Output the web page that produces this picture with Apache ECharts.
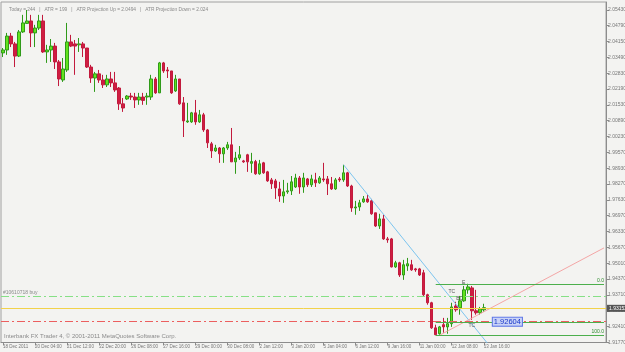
<!DOCTYPE html>
<html><head><meta charset="utf-8">
<script src="https://cdn.jsdelivr.net/npm/echarts@6/dist/echarts.min.js"></script>
<style>html,body{margin:0;padding:0;background:#f3f3f1}#c{width:625px;height:352px}</style>
</head><body><div id="c"></div>
<script>
// ---- data (H4 bars) ----
const opens = [2.0363,2.0375,2.0432,2.0400,2.0350,2.0449,2.0484,2.0494,2.0445,2.0465,
2.0494,2.0367,2.0375,2.0391,2.0326,2.0252,2.0293,2.0408,2.0400,2.0396,
2.0400,2.0383,2.0305,2.0260,2.0277,2.0252,2.0232,2.0256,2.0240,2.0219,
2.0154,2.0174,2.0186,2.0182,2.0170,2.0182,2.0182,2.0182,2.0256,2.0199,
2.0322,2.0293,2.0289,2.0207,2.0256,2.0158,2.0080,2.0080,2.0117,2.0080,
2.0109,2.0047,1.9990,1.9961,1.9973,1.9949,1.9973,1.9986,1.9916,1.9932,
1.9920,1.9945,1.9910,1.9917,1.9867,1.9912,1.9875,1.9842,1.9838,1.9805,
1.9776,1.9793,1.9797,1.9813,1.9850,1.9813,1.9846,1.9822,1.9842,1.9830,
1.9846,1.9846,1.9826,1.9805,1.9846,1.9842,1.9871,1.9817,1.9727,1.9731,
1.9752,1.9764,1.9756,1.9707,1.9653,1.9682,1.9600,1.9600,1.9485,1.9502,
1.9452,1.9489,1.9494,1.9477,1.9477,1.9461,1.9371,1.9338,1.9235,1.9211,
1.9248,1.9239,1.9252,1.9325,1.9317,1.9346,1.9391,1.9399,1.9305,1.9297,
1.9309];
const closes = [2.0375,2.0432,2.0400,2.0350,2.0449,2.0486,2.0494,2.0445,2.0465,2.0494,
2.0367,2.0375,2.0391,2.0326,2.0256,2.0297,2.0408,2.0391,2.0391,2.0400,
2.0383,2.0305,2.0260,2.0277,2.0252,2.0232,2.0256,2.0240,2.0211,2.0154,
2.0137,2.0186,2.0182,2.0170,2.0182,2.0168,2.0186,2.0256,2.0199,2.0322,
2.0289,2.0289,2.0199,2.0256,2.0154,2.0084,2.0084,2.0117,2.0080,2.0109,
2.0047,1.9994,1.9961,1.9973,1.9949,1.9973,1.9986,1.9916,1.9932,1.9945,
1.9916,1.9916,1.9917,1.9867,1.9908,1.9871,1.9838,1.9826,1.9809,1.9776,
1.9793,1.9797,1.9834,1.9850,1.9813,1.9850,1.9822,1.9846,1.9830,1.9850,
1.9842,1.9826,1.9805,1.9842,1.9842,1.9871,1.9817,1.9727,1.9731,1.9748,
1.9764,1.9752,1.9703,1.9653,1.9682,1.9600,1.9596,1.9485,1.9502,1.9452,
1.9494,1.9498,1.9473,1.9473,1.9452,1.9371,1.9338,1.9235,1.9207,1.9239,
1.9239,1.9252,1.9321,1.9309,1.9346,1.9391,1.9403,1.9305,1.9297,1.9313,
1.9318];
const lows = [2.0346,2.0355,2.0387,2.0305,2.0346,2.0445,2.0482,2.0387,2.0387,2.0457,
2.0363,2.0322,2.0326,2.0297,2.0227,2.0244,2.0285,2.0387,2.0273,2.0367,
2.0346,2.0301,2.0240,2.0203,2.0240,2.0219,2.0223,2.0223,2.0203,2.0129,
2.0121,2.0170,2.0170,2.0137,2.0150,2.0150,2.0150,2.0170,2.0195,2.0199,
2.0281,2.0260,2.0195,2.0203,2.0150,2.0018,2.0076,2.0076,2.0068,2.0076,
2.0039,1.9973,1.9932,1.9957,1.9912,1.9912,1.9965,1.9916,1.9867,1.9924,
1.9912,1.9875,1.9871,1.9863,1.9863,1.9867,1.9834,1.9805,1.9764,1.9752,
1.9748,1.9785,1.9780,1.9809,1.9785,1.9789,1.9813,1.9813,1.9813,1.9826,
1.9834,1.9780,1.9801,1.9801,1.9834,1.9834,1.9813,1.9711,1.9699,1.9715,
1.9748,1.9748,1.9699,1.9649,1.9641,1.9596,1.9584,1.9483,1.9481,1.9444,
1.9432,1.9469,1.9469,1.9465,1.9448,1.9363,1.9330,1.9231,1.9205,1.9207,
1.9215,1.9211,1.9239,1.9301,1.9289,1.9342,1.9375,1.9268,1.9289,1.9289,
1.9301];
const highs = [2.0383,2.0445,2.0445,2.0408,2.0457,2.0519,2.0539,2.0519,2.0478,2.0519,
2.0519,2.0396,2.0420,2.0404,2.0334,2.0342,2.0486,2.0437,2.0416,2.0424,
2.0408,2.0383,2.0314,2.0285,2.0293,2.0273,2.0273,2.0285,2.0285,2.0223,
2.0178,2.0190,2.0199,2.0199,2.0199,2.0199,2.0199,2.0273,2.0264,2.0326,
2.0326,2.0305,2.0289,2.0273,2.0256,2.0182,2.0158,2.0121,2.0170,2.0129,
2.0117,2.0051,1.9998,1.9986,1.9977,1.9977,1.9998,2.0055,1.9957,1.9981,
1.9924,1.9949,1.9953,1.9924,1.9924,1.9916,1.9879,1.9850,1.9846,1.9834,
1.9842,1.9830,1.9858,1.9867,1.9858,1.9871,1.9850,1.9863,1.9871,1.9858,
1.9912,1.9858,1.9854,1.9850,1.9854,1.9904,1.9875,1.9822,1.9756,1.9760,
1.9776,1.9780,1.9764,1.9707,1.9703,1.9699,1.9608,1.9604,1.9510,1.9506,
1.9514,1.9522,1.9514,1.9481,1.9481,1.9473,1.9375,1.9342,1.9248,1.9243,
1.9276,1.9276,1.9338,1.9342,1.9366,1.9407,1.9416,1.9407,1.9391,1.9321,
1.9334];
const xTickLabels = ['18 Dec 2011','20 Dec 04:00','21 Dec 12:00','22 Dec 20:00','26 Dec 08:00','27 Dec 16:00',
'29 Dec 00:00','30 Dec 08:00','2 Jan 12:00','3 Jan 20:00','5 Jan 04:00','6 Jan 12:00','9 Jan 16:00',
'11 Jan 00:00','12 Jan 08:00','13 Jan 16:00'];
const yTickLabels = ['1.91770','1.92410','1.93050','1.93710','1.94370','1.95010','1.95670','1.96330','1.96970',
'1.97630','1.98270','1.98930','1.99570','2.00230','2.00890','2.01530','2.02190','2.02830','2.03490',
'2.04150','2.04790','2.05430'];
const totalSlots = 151;           // bars + empty right shift
const orderLevel = 1.9365, bidLevel = 1.93152, stopLevel = 1.9264;
const bidText = '1.93152';
const fibLevels = [{v:1.9416,t:'0.0'},{v:1.9257,t:''},{v:1.9205,t:'100.0'}];
const fibStart = 108;
const blueTrend = [[85,1.9904],[121,1.9170]];
const pinkTrend = [[109,1.9205],[150,1.9563]];
const waveLabels = [{i:112,v:1.9383,t:'TC'},{i:113.7,v:1.9354,t:'BC'},{i:115,v:1.9421,t:'E'},{i:117,v:1.9243,t:'TC'}];
const priceTag = {i:122, v:1.92604, t:'1.92604'};
const headerText = 'Today = 244   |   ATR = 199   |   ATR Projection Up = 2.0494   |   ATR Projection Down = 2.024';

// ---- build ----
const cats = []; for (let i=0;i<totalSlots;i++) cats.push(String(i));
const ohlc = opens.map((o,i)=>[o, closes[i], lows[i], highs[i]]);
const yMin = 1.9175, yInt = 0.0065;
const chart = echarts.init(document.getElementById('c'), null, {renderer:'canvas'});
const f = '"Liberation Sans", Arial, sans-serif';
const markLines = [
  {yAxis: orderLevel, lineStyle:{color:'#86e086',type:[8,3,2,3],width:1},
   label:{show:true,position:'insideStartTop',formatter:'#10610718 buy',color:'#8a8a8a',fontSize:5,fontFamily:f,distance:[2,1]}},
  {yAxis: bidLevel, lineStyle:{color:'#f2d24a',type:'solid',width:1},
   label:{show:true,position:'end',formatter:bidText,color:'#fff',backgroundColor:'#555',fontSize:5,fontFamily:f,padding:[1,2],distance:1}},
  {yAxis: stopLevel, lineStyle:{color:'#ec5f5f',type:[8,3,2,3],width:1}, label:{show:false}}
];
fibLevels.forEach(fl=>{
  markLines.push([{coord:[fibStart, fl.v], lineStyle:{color:'#4caf4c',type:'solid',width:1},
     label:{show:!!fl.t, formatter:fl.t, position:'insideEndTop', color:'#2e8b2e', fontSize:5, fontFamily:f, distance:[0,1]}},
    {coord:[totalSlots-1, fl.v]}]);
});
const option = {
  backgroundColor:'#f3f3f1',
  animation:false,
  title:{text:headerText,left:4,top:2,textStyle:{fontSize:4.8,color:'#8a8a8a',fontWeight:'normal',fontFamily:f}},
  grid:{left:1,right:19,top:2,bottom:9.5,show:true,borderColor:'#a0a0a0',borderWidth:1,backgroundColor:'transparent',outerBoundsMode:'none',containLabel:false},
  xAxis:{type:'category',data:cats,boundaryGap:true,
    axisLine:{show:true,lineStyle:{color:'#8c8c8c'}},
    axisTick:{show:true,alignWithLabel:true,length:3,interval:(i)=>i%8===0 && i/8<xTickLabels.length,lineStyle:{color:'#8c8c8c'}},
    axisLabel:{show:true,interval:(i)=>i%8===0 && i/8<xTickLabels.length,formatter:(v,i)=>xTickLabels[i/8]||'',
      align:'left',margin:2,fontSize:4.5,color:'#777',fontFamily:f,hideOverlap:false},
    splitLine:{show:false}},
  yAxis:{type:'value',position:'right',min:yMin,max:2.05718,interval:yInt,scale:true,
    axisLine:{show:true,lineStyle:{color:'#8c8c8c'}},
    axisTick:{show:true,length:3,lineStyle:{color:'#8c8c8c'}},
    axisLabel:{show:true,showMaxLabel:false,margin:2,fontSize:5,color:'#777',fontFamily:f,hideOverlap:false,
      formatter:(v)=>{const k=Math.round((v-yMin)/yInt);return yTickLabels[k]||'';}},
    splitLine:{show:false}},
  series:[
    {type:'candlestick',data:ohlc,barWidth:3,
     itemStyle:{color:'#62e31c',color0:'#cf1d42',borderColor:'#2f9a1a',borderColor0:'#c21a3d',borderWidth:1},
     markLine:{symbol:'none',silent:true,animation:false,precision:6,data:markLines},
     markPoint:{symbol:'rect',symbolSize:0,silent:true,animation:false,
       data:waveLabels.map(w=>({coord:[w.i,w.v],label:{show:true,formatter:w.t,color:'#555',fontSize:5,fontFamily:f}}))
         .concat([{coord:[priceTag.i,priceTag.v],label:{show:true,formatter:priceTag.t,position:'right',offset:[-4,0],
           color:'#1736c9',fontSize:7.5,fontFamily:f,backgroundColor:'#c9d3f7',borderColor:'#5b74e6',borderWidth:1,padding:[0,1]}}])}},
    {type:'line',data:blueTrend,symbol:'none',clip:true,lineStyle:{color:'#7cc4ee',width:1},silent:true},
    {type:'line',data:pinkTrend,symbol:'none',clip:true,lineStyle:{color:'#f4a6a6',width:1},silent:true}
  ],
  graphic:[{type:'text',left:4,top:333,style:{text:'Interbank FX Trader 4, © 2001-2011 MetaQuotes Software Corp.',fill:'#8a8a8a',fontSize:6,fontFamily:f}}]
};
chart.setOption(option);
</script></body></html>
